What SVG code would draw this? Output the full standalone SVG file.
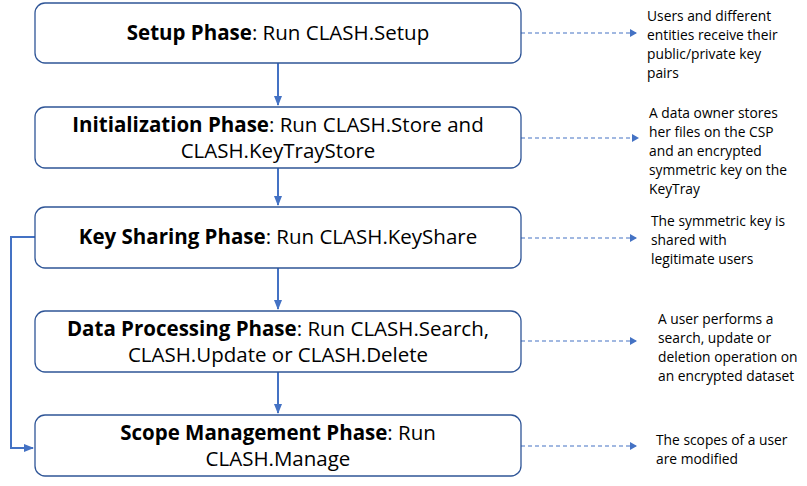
<svg xmlns="http://www.w3.org/2000/svg" width="807" height="486" viewBox="0 0 807 486">
<style>
.box{fill:#fff;stroke:#2f5597;stroke-width:1.3}
.m{font-family:"Open Sans",sans-serif;font-size:20.5px;fill:#000;text-anchor:middle}
.b{font-weight:bold}
.s{font-family:"Open Sans",sans-serif;font-size:13.8px;fill:#000}
.c{stroke:#4472c4;stroke-width:2;fill:none}
.d{stroke:#4472c4;stroke-width:1.2;fill:none;stroke-dasharray:4 3}
</style>
<defs>
<marker id="a" markerWidth="8" markerHeight="8" refX="6" refY="4" orient="auto" markerUnits="userSpaceOnUse"><path d="M0,0L7,4L0,8z" fill="#4472c4"/></marker>
<marker id="a2" markerWidth="10" markerHeight="10" refX="9" refY="5" orient="auto" markerUnits="userSpaceOnUse"><path d="M0,1L10,5L0,9z" fill="#4472c4"/></marker>
</defs>
<g id="connectors">
<path class="c" d="M278,63V105" marker-end="url(#a2)"/>
<path class="c" d="M278,168V205" marker-end="url(#a2)"/>
<path class="c" d="M278,268V309" marker-end="url(#a2)"/>
<path class="c" d="M278,372V413" marker-end="url(#a2)"/>
<path class="c" d="M35,237H11V448H33" marker-end="url(#a2)"/>
<path class="d" d="M521,33H636" marker-end="url(#a)"/>
<path class="d" d="M521,138H638" marker-end="url(#a)"/>
<path class="d" d="M521,238H636" marker-end="url(#a)"/>
<path class="d" d="M521,341H636" marker-end="url(#a)"/>
<path class="d" d="M521,446H636" marker-end="url(#a)"/>
</g>
<g id="n1"><rect class="box" x="35" y="3" width="486" height="60" rx="10"/>
<text class="m" x="278" y="40"><tspan class="b">Setup Phase</tspan>: Run CLASH.Setup</text></g>
<g id="n2"><rect class="box" x="35" y="107" width="486" height="61" rx="10"/>
<text class="m" x="278" y="132"><tspan class="b">Initialization Phase</tspan>: Run CLASH.Store and</text>
<text class="m" x="278" y="158">CLASH.KeyTrayStore</text></g>
<g id="n3"><rect class="box" x="35" y="207" width="486" height="61" rx="10"/>
<text class="m" x="278" y="244"><tspan class="b">Key Sharing Phase</tspan>: Run CLASH.KeyShare</text></g>
<g id="n4"><rect class="box" x="35" y="311" width="486" height="61" rx="10"/>
<text class="m" x="278" y="336"><tspan class="b">Data Processing Phase</tspan>: Run CLASH.Search,</text>
<text class="m" x="278" y="362">CLASH.Update or CLASH.Delete</text></g>
<g id="n5"><rect class="box" x="35" y="415" width="486" height="61" rx="10"/>
<text class="m" x="278" y="440"><tspan class="b">Scope Management Phase</tspan>: Run</text>
<text class="m" x="278" y="466">CLASH.Manage</text></g>
<g id="t1"><text class="s" x="647" y="21">Users and different</text><text class="s" x="647" y="40">entities receive their</text><text class="s" x="647" y="59">public/private key</text><text class="s" x="647" y="78">pairs</text></g>
<g id="t2"><text class="s" x="649" y="118">A data owner stores</text><text class="s" x="649" y="137">her files on the CSP</text><text class="s" x="649" y="156">and an encrypted</text><text class="s" x="649" y="175">symmetric key on the</text><text class="s" x="649" y="194">KeyTray</text></g>
<g id="t3"><text class="s" x="651" y="226">The symmetric key is</text><text class="s" x="651" y="245">shared with</text><text class="s" x="651" y="264">legitimate users</text></g>
<g id="t4"><text class="s" x="658" y="324">A user performs a</text><text class="s" x="658" y="343">search, update or</text><text class="s" x="658" y="362">deletion operation on</text><text class="s" x="658" y="381">an encrypted dataset</text></g>
<g id="t5"><text class="s" x="656" y="445">The scopes of a user</text><text class="s" x="656" y="464">are modified</text></g>
</svg>
